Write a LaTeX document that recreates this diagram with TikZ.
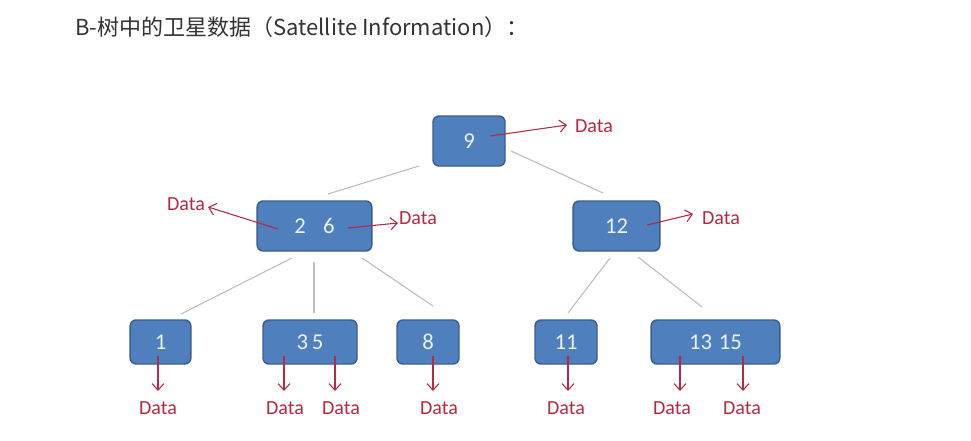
\documentclass[tikz,border=0pt]{standalone}
\usepackage{fontspec}
\setmainfont{Carlito}
\newfontfamily\cjkfont{Noto Sans CJK SC}
\usetikzlibrary{arrows.meta}
\definecolor{keyfill}{HTML}{4F7FBC}
\definecolor{keyedge}{HTML}{3A5F8E}
\definecolor{keytext}{HTML}{EAF2FA}
\definecolor{linkgray}{HTML}{B8BEC4}
\definecolor{datared}{HTML}{B8283F}
\definecolor{titlegray}{HTML}{333333}
\begin{document}
\begin{tikzpicture}[x=0.75pt,y=-0.75pt,
  keybox/.style={draw=keyedge,fill=keyfill,line width=1.1pt,rounded corners=4.5pt,
    text=keytext,font=\fontsize{17}{19}\selectfont,inner sep=0pt},
  link/.style={draw=linkgray,line width=0.8pt},
  ptr/.style={draw=datared,line width=0.8pt,-{Straight Barb[length=5pt,width=9pt]}},
  datalbl/.style={text=datared,font=\fontsize{15}{17}\selectfont,inner sep=0pt}]
\useasboundingbox[fill=white] (0,0) rectangle (971,440);

% title
\node[anchor=west,text=titlegray,font=\cjkfont\fontsize{16.5}{19}\selectfont,inner sep=0pt]
  (title) at (75,27) {B-树中的卫星数据（Satellite Information）：};

% key nodes
\node[keybox,minimum width=54pt,minimum height=37.5pt] (n9)  at (469,141) {9};
\node[keybox,minimum width=86pt,minimum height=37.5pt] (n26) at (314.5,226) {2\hspace{13pt}6};
\node[keybox,minimum width=65pt,minimum height=37.5pt] (n12) at (616.5,226) {12};
\node[keybox,minimum width=45.5pt,minimum height=33pt] (n1)  at (160.5,342) {1};
\node[keybox,minimum width=70.5pt,minimum height=33pt] (n35) at (310,342) {3\hspace{3pt}5};
\node[keybox,minimum width=46.5pt,minimum height=33pt] (n8)  at (428,342) {8};
\node[keybox,minimum width=46.5pt,minimum height=33pt] (n11) at (566,342) {11};
\node[keybox,minimum width=96.5pt,minimum height=33pt] (n1315) at (715.5,342) {13\hspace{5pt}15};

% tree links (free-standing strokes between the boxes)
\coordinate (a1) at (419,166); \coordinate (a2) at (328,194);
\coordinate (b1) at (511,151); \coordinate (b2) at (603,193);
\coordinate (c1) at (292,258); \coordinate (c2) at (181,314);
\coordinate (d1) at (314,262); \coordinate (d2) at (314,313);
\coordinate (e1) at (362,258); \coordinate (e2) at (433,306);
\coordinate (f1) at (610,258); \coordinate (f2) at (568,313);
\coordinate (g1) at (638,257); \coordinate (g2) at (702,307);
\draw[link] (a1) -- (a2);
\draw[link] (b1) -- (b2);
\draw[link] (c1) -- (c2);
\draw[link] (d1) -- (d2);
\draw[link] (e1) -- (e2);
\draw[link] (f1) -- (f2);
\draw[link] (g1) -- (g2);

% data labels
\node[datalbl] (d9)   at (594,126) {Data};
\node[datalbl] (d26l) at (186,204) {Data};
\node[datalbl] (d26r) at (418,218) {Data};
\node[datalbl] (d12)  at (721,218) {Data};
\node[datalbl] (d1)   at (158,408) {Data};
\node[datalbl] (d3)   at (285,408) {Data};
\node[datalbl] (d5)   at (341,408) {Data};
\node[datalbl] (d8)   at (439,408) {Data};
\node[datalbl] (d11)  at (566,408) {Data};
\node[datalbl] (d13)  at (672,408) {Data};
\node[datalbl] (d15)  at (742,408) {Data};

% pointers to satellite data
\coordinate (p9)   at (490,136); \coordinate (q9)   at (567,125);
\coordinate (p26l) at (278,229); \coordinate (q26l) at (208,207);
\coordinate (p26r) at (348,228); \coordinate (q26r) at (398,223);
\coordinate (p12)  at (647,225); \coordinate (q12)  at (693,214);
\draw[ptr] (p9) -- (q9);
\draw[ptr] (p26l) -- (q26l);
\draw[ptr] (p26r) -- (q26r);
\draw[ptr] (p12) -- (q12);
\foreach \x/\n in {158/1,284/3,335/5,433/8,568/11,680/13,743/15}{
  \coordinate (s\n) at (\x,356); \coordinate (t\n) at (\x,391);
  \draw[ptr] (s\n) -- (t\n);
}
\end{tikzpicture}
\end{document}
